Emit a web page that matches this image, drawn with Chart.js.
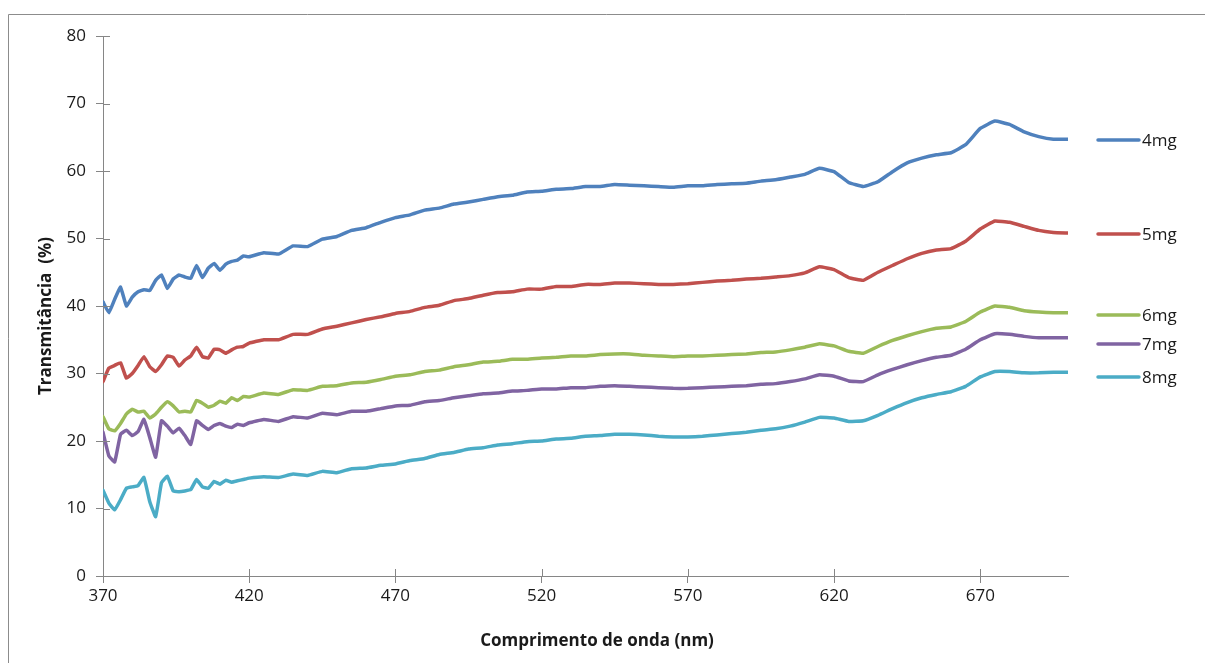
<!DOCTYPE html>
<html>
<head>
<meta charset="utf-8">
<script src="https://cdn.jsdelivr.net/npm/chart.js@4.4.1/dist/chart.umd.min.js"></script>
<style>
  html, body { margin: 0; padding: 0; background: #fff; }
  #wrap { width: 1205px; height: 663px; }
</style>
</head>
<body>
<div id="wrap"><canvas id="grafico" width="1205" height="663"></canvas></div>
<script>
// comprimento de onda (nm)
const wavelengths = [
  370, 372, 374, 376, 378, 380, 382, 384, 386, 388, 390, 392, 394, 396, 398, 400,
  402, 404, 406, 408, 410, 412, 414, 416, 418, 420,
  425, 430, 435, 440, 445, 450, 455, 460, 465, 470, 475, 480, 485, 490, 495, 500,
  505, 510, 515, 520, 525, 530, 535, 540, 545, 550, 555, 560, 565, 570, 575, 580,
  585, 590, 595, 600, 605, 610, 615, 620, 625, 630, 635, 640, 645, 650, 655, 660,
  665, 670, 675, 680, 685, 690, 695, 700
];

const mg4 = [
  40.6, 39.0, 41.0, 42.8, 40.0, 41.3, 42.1, 42.4, 42.3, 43.8, 44.6, 42.6, 44.0, 44.6, 44.3, 44.1,
  46.0, 44.2, 45.6, 46.3, 45.3, 46.2, 46.6, 46.8, 47.4, 47.3,
  47.9, 47.7, 48.9, 48.8, 49.9, 50.3, 51.2, 51.6, 52.4, 53.1, 53.5, 54.2, 54.5, 55.1, 55.4, 55.8,
  56.2, 56.4, 56.9, 57.0, 57.3, 57.4, 57.7, 57.7, 58.0, 57.9, 57.8, 57.7, 57.6, 57.8, 57.8, 58.0,
  58.1, 58.2, 58.5, 58.7, 59.1, 59.5, 60.4, 59.9, 58.3, 57.7, 58.4, 59.9, 61.2, 61.9, 62.4, 62.7,
  63.9, 66.3, 67.4, 66.9, 65.8, 65.1, 64.7, 64.7
];

const mg5 = [
  28.8, 30.8, 31.2, 31.6, 29.3, 30.0, 31.2, 32.5, 31.0, 30.3, 31.3, 32.6, 32.4, 31.1, 32.0, 32.6,
  33.9, 32.5, 32.3, 33.6, 33.5, 33.0, 33.5, 33.9, 34.0, 34.5,
  35.0, 35.0, 35.8, 35.8, 36.6, 37.0, 37.5, 38.0, 38.4, 38.9, 39.2, 39.8, 40.1, 40.8, 41.1, 41.6,
  42.0, 42.1, 42.5, 42.5, 42.9, 42.9, 43.2, 43.2, 43.4, 43.4, 43.3, 43.2, 43.2, 43.3, 43.5, 43.7,
  43.8, 44.0, 44.1, 44.3, 44.5, 44.9, 45.8, 45.4, 44.2, 43.8, 45.0, 46.0, 47.0, 47.8, 48.3, 48.5,
  49.6, 51.4, 52.6, 52.4, 51.8, 51.2, 50.9, 50.8
];

const mg6 = [
  23.6, 21.8, 21.5, 22.6, 24.0, 24.7, 24.3, 24.4, 23.4, 24.0, 25.0, 25.8, 25.2, 24.3, 24.4, 24.3,
  26.0, 25.6, 25.0, 25.3, 25.9, 25.6, 26.4, 26.0, 26.6, 26.5,
  27.1, 26.9, 27.6, 27.5, 28.1, 28.2, 28.6, 28.7, 29.1, 29.6, 29.8, 30.3, 30.5, 31.0, 31.3, 31.7,
  31.8, 32.1, 32.1, 32.3, 32.4, 32.6, 32.6, 32.8, 32.9, 32.9, 32.7, 32.6, 32.5, 32.6, 32.6, 32.7,
  32.8, 32.9, 33.1, 33.2, 33.5, 33.9, 34.4, 34.1, 33.3, 33.0, 34.0, 34.9, 35.6, 36.2, 36.7, 36.9,
  37.7, 39.1, 40.0, 39.8, 39.3, 39.1, 39.0, 39.0
];

const mg7 = [
  21.3, 17.8, 16.9, 21.0, 21.6, 20.8, 21.4, 23.2, 20.5, 17.6, 23.0, 22.2, 21.2, 21.9, 20.8, 19.5,
  23.0, 22.3, 21.7, 22.3, 22.6, 22.2, 22.0, 22.5, 22.3, 22.7,
  23.2, 22.9, 23.6, 23.4, 24.1, 23.9, 24.4, 24.4, 24.8, 25.2, 25.3, 25.8, 26.0, 26.4, 26.7, 27.0,
  27.1, 27.4, 27.5, 27.7, 27.7, 27.9, 27.9, 28.1, 28.2, 28.1, 28.0, 27.9, 27.8, 27.8, 27.9, 28.0,
  28.1, 28.2, 28.4, 28.5, 28.8, 29.2, 29.8, 29.6, 28.9, 28.8, 29.8, 30.6, 31.3, 31.9, 32.4, 32.7,
  33.6, 35.0, 35.9, 35.8, 35.5, 35.3, 35.3, 35.3
];

const mg8 = [
  12.7, 10.8, 9.8, 11.3, 13.0, 13.2, 13.4, 14.6, 11.0, 8.8, 13.8, 14.8, 12.6, 12.5, 12.6, 12.8,
  14.3, 13.2, 13.0, 14.0, 13.6, 14.2, 13.9, 14.1, 14.3, 14.5,
  14.7, 14.6, 15.1, 14.9, 15.5, 15.3, 15.9, 16.0, 16.4, 16.6, 17.1, 17.4, 18.0, 18.3, 18.8, 19.0,
  19.4, 19.6, 19.9, 20.0, 20.3, 20.4, 20.7, 20.8, 21.0, 21.0, 20.9, 20.7, 20.6, 20.6, 20.7, 20.9,
  21.1, 21.3, 21.6, 21.8, 22.2, 22.8, 23.5, 23.4, 22.9, 23.0, 23.8, 24.8, 25.7, 26.4, 26.9, 27.3,
  28.1, 29.5, 30.3, 30.3, 30.1, 30.1, 30.2, 30.2
];

const seriesNames = ['4mg', '5mg', '6mg', '7mg', '8mg'];
const seriesColors = ['#4F81BD', '#C0504D', '#9BBB59', '#8064A2', '#4BACC6'];
const xTicks = [370, 420, 470, 520, 570, 620, 670];
const yTicks = [0, 10, 20, 30, 40, 50, 60, 70, 80];

const fonte = "'Open Sans', sans-serif";
const cinza = '#868686';

// moldura, ticks cruzados, legenda e títulos dos eixos
const extras = {
  id: 'extras',
  beforeDraw(chart) {
    const c = chart.ctx;
    c.save();
    c.strokeStyle = '#8c8c8c';
    c.lineWidth = 1;
    c.beginPath();
    c.moveTo(8.5, 663);
    c.lineTo(8.5, 14.5);
    c.lineTo(1205, 14.5);
    c.stroke();
    c.restore();
  },
  afterDraw(chart) {
    const c = chart.ctx;
    const xs = chart.scales.x, ys = chart.scales.y;
    c.save();
    c.strokeStyle = cinza;
    c.lineWidth = 1;
    c.beginPath();
    xTicks.forEach(v => {
      const px = Math.round(xs.getPixelForValue(v)) + 0.5;
      c.moveTo(px, ys.bottom);
      c.lineTo(px, ys.bottom - 7);
    });
    yTicks.forEach(v => {
      const py = Math.round(ys.getPixelForValue(v)) + 0.5;
      c.moveTo(xs.left, py);
      c.lineTo(xs.left + 7, py);
    });
    c.stroke();

    // legenda
    const legY = [140, 234, 315, 344, 377];
    c.font = '17px ' + fonte;
    c.textBaseline = 'middle';
    c.fillStyle = '#1a1a1a';
    seriesNames.forEach((n, i) => {
      c.strokeStyle = seriesColors[i];
      c.lineWidth = 3.5;
      c.lineCap = 'round';
      c.beginPath();
      c.moveTo(1098, legY[i]);
      c.lineTo(1139, legY[i]);
      c.stroke();
      c.fillText(n, 1142, legY[i] + 1);
    });

    // títulos
    c.font = 'bold 17px ' + fonte;
    c.textAlign = 'center';
    c.fillText('Comprimento de onda (nm)', 597, 641);
    c.translate(46, 316);
    c.rotate(-Math.PI / 2);
    c.fillText('Transmitância  (%)', 0, 0);
    c.restore();
  }
};

const dados = [mg4, mg5, mg6, mg7, mg8];

new Chart(document.getElementById('grafico'), {
  type: 'line',
  data: {
    datasets: dados.map((serie, i) => ({
      label: seriesNames[i],
      data: wavelengths.map((w, k) => ({ x: w, y: serie[k] })),
      borderColor: seriesColors[i],
      backgroundColor: seriesColors[i],
      borderWidth: 3.5,
      pointRadius: 0,
      tension: 0.1,
      borderCapStyle: 'round',
      borderJoinStyle: 'round'
    }))
  },
  options: {
    responsive: false,
    animation: false,
    layout: { padding: { left: 0, top: 36, right: 137, bottom: 0 } },
    scales: {
      x: {
        type: 'linear',
        min: 370,
        max: 700,
        afterBuildTicks: s => { s.ticks = xTicks.map(v => ({ value: v })); },
        afterFit: s => { s.height = 87; },
        grid: { drawOnChartArea: false, tickLength: 7, color: cinza },
        border: { color: cinza, width: 1 },
        ticks: { color: '#1a1a1a', font: { family: fonte, size: 17 }, padding: 3, maxRotation: 0 }
      },
      y: {
        min: 0,
        max: 80,
        afterBuildTicks: s => { s.ticks = yTicks.map(v => ({ value: v })); },
        afterFit: s => { s.width = 103; },
        grid: { drawOnChartArea: false, tickLength: 7, color: cinza },
        border: { color: cinza, width: 1 },
        ticks: { color: '#1a1a1a', font: { family: fonte, size: 17 }, padding: 10 }
      }
    },
    plugins: {
      legend: { display: false },
      tooltip: { enabled: false }
    }
  },
  plugins: [extras]
});
</script>
</body>
</html>
